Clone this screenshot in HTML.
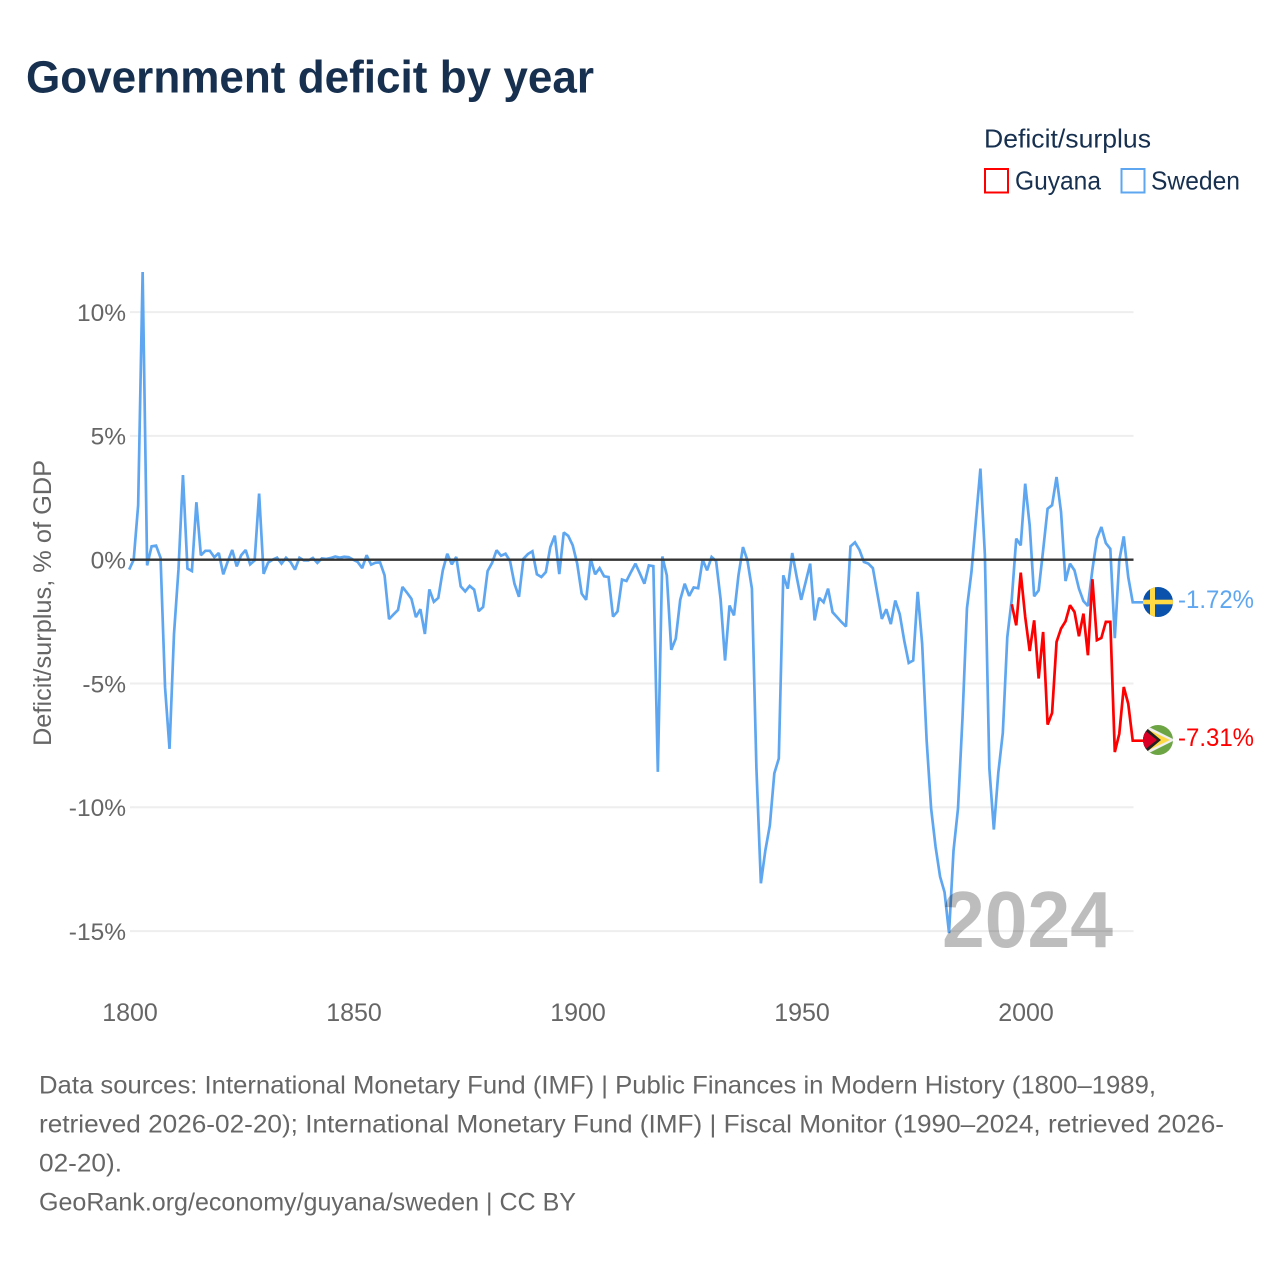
<!DOCTYPE html>
<html lang="en">
<head>
<meta charset="utf-8">
<title>Government deficit by year</title>
<style>
html,body{margin:0;padding:0;background:#fff;}
svg{display:block;}
text{font-family:"Liberation Sans",sans-serif;}
</style>
</head>
<body>
<svg id="chart" width="1280" height="1280" viewBox="0 0 1280 1280" xmlns="http://www.w3.org/2000/svg">
  <rect x="0" y="0" width="1280" height="1280" fill="#ffffff"/>
  <text x="26" y="92.500" font-size="45" font-weight="700" fill="#17304f" textLength="568" lengthAdjust="spacingAndGlyphs">Government deficit by year</text>

  <text x="984" y="147.500" font-size="26" fill="#17304f" textLength="167" lengthAdjust="spacingAndGlyphs">Deficit/surplus</text>
  <g>
    <rect x="985" y="169" width="23" height="23.500" fill="none" stroke="#ff0000" stroke-width="2"/>
    <text x="1015" y="189.500" font-size="26" fill="#17304f" textLength="86" lengthAdjust="spacingAndGlyphs">Guyana</text>
  </g>
  <g>
    <rect x="1121.500" y="169" width="23" height="23.500" fill="none" stroke="#5ea7f0" stroke-width="2"/>
    <text x="1151" y="189.500" font-size="26" fill="#17304f" textLength="89" lengthAdjust="spacingAndGlyphs">Sweden</text>
  </g>

  <text transform="translate(51,746) rotate(-90)" x="0" y="0" font-size="25" fill="#666666" textLength="286" lengthAdjust="spacingAndGlyphs">Deficit/surplus, % of GDP</text>

  <g id="grid"></g>
  <g id="yticks"></g>
  <g id="xticks"></g>
  <g id="series"></g>
  <g id="zero"></g>

  <text x="942" y="947" font-size="80" font-weight="700" fill="#000000" fill-opacity="0.26" textLength="171" lengthAdjust="spacingAndGlyphs">2024</text>

  <defs>
    <clipPath id="clip-se"><circle cx="1158" cy="602" r="15"/></clipPath>
    <clipPath id="clip-gy"><circle cx="1158" cy="740" r="15"/></clipPath>
  </defs>
  <g id="flag-sweden" clip-path="url(#clip-se)">
    <rect x="1143" y="587" width="30" height="30" fill="#0a52ac"/>
    <rect x="1150" y="587" width="5" height="30" fill="#ffda44"/>
    <rect x="1143" y="599.700" width="30" height="4.600" fill="#ffda44"/>
  </g>
  <g id="flag-guyana" clip-path="url(#clip-gy)">
    <rect x="1143" y="725" width="30" height="30" fill="#6da544"/>
    <polygon points="1145,725 1175,740 1145,755" fill="#f0f0f0"/>
    <polygon points="1147,729 1170,740 1147,751" fill="#ffda44"/>
    <polygon points="1143,725 1161,740 1143,755" fill="#222222"/>
    <polygon points="1143,729 1157,740 1143,751" fill="#d80027"/>
  </g>
  <text id="label-sweden" x="1178" y="608" font-size="25" fill="#5ea7f0" textLength="76" lengthAdjust="spacingAndGlyphs">-1.72%</text>
  <text id="label-guyana" x="1178" y="746" font-size="25" fill="#ff0000" textLength="76" lengthAdjust="spacingAndGlyphs">-7.31%</text>

  <g font-size="25" fill="#666666">
    <text x="39" y="1093.500" textLength="1117" lengthAdjust="spacingAndGlyphs">Data sources: International Monetary Fund (IMF) | Public Finances in Modern History (1800–1989,</text>
    <text x="39" y="1132.500" textLength="1185" lengthAdjust="spacingAndGlyphs">retrieved 2026-02-20); International Monetary Fund (IMF) | Fiscal Monitor (1990–2024, retrieved 2026-</text>
    <text x="39" y="1171.500" textLength="83" lengthAdjust="spacingAndGlyphs">02-20).</text>
    <text x="39" y="1210.500" textLength="537" lengthAdjust="spacingAndGlyphs">GeoRank.org/economy/guyana/sweden | CC BY</text>
  </g>
</svg>
<script>
const swedenStartYear = 1800;
const guyanaStartYear = 1997;
const swedenValues = [
  -0.4, 0, 2.2, 11.62, -0.23, 0.54, 0.57, 0.08, -5.15, -7.64,
  -3.0, -0.4, 3.42, -0.36, -0.46, 2.32, 0.18, 0.36, 0.36, 0.1,
  0.27, -0.59, -0.07, 0.39, -0.27, 0.18, 0.39, -0.19, -0.03, 2.67,
  -0.57, -0.12, 0, 0.08, -0.16, 0.08, -0.09, -0.4, 0.08, -0.03,
  -0.03, 0.07, -0.13, 0.05, 0.03, 0.07, 0.13, 0.08, 0.12, 0.1,
  0, -0.09, -0.34, 0.18, -0.2, -0.12, -0.11, -0.63, -2.4, -2.21,
  -2.03, -1.1, -1.33, -1.58, -2.32, -2.0, -3.0, -1.2, -1.7, -1.54,
  -0.43, 0.24, -0.19, 0.11, -1.08, -1.28, -1.06, -1.21, -2.08, -1.91,
  -0.46, -0.13, 0.38, 0.16, 0.24, -0.05, -0.97, -1.5, 0.04, 0.23,
  0.34, -0.59, -0.7, -0.5, 0.51, 0.97, -0.58, 1.1, 0.96, 0.58,
  -0.16, -1.37, -1.62, 0.04, -0.59, -0.34, -0.67, -0.7, -2.3, -2.09,
  -0.8, -0.86, -0.5, -0.16, -0.56, -0.97, -0.23, -0.26, -8.57, 0.13,
  -0.63, -3.64, -3.19, -1.62, -0.97, -1.46, -1.12, -1.15, 0, -0.43,
  0.11, -0.05, -1.58, -4.07, -1.85, -2.25, -0.63, 0.51, -0.03, -1.17,
  -8.4, -13.07, -11.74, -10.73, -8.63, -8.03, -0.63, -1.17, 0.27, -0.7,
  -1.62, -0.9, -0.16, -2.45, -1.54, -1.72, -1.17, -2.12, -2.32, -2.52,
  -2.7, 0.54, 0.7, 0.4, -0.09, -0.16, -0.34, -1.37, -2.39, -2.0,
  -2.6, -1.65, -2.2, -3.27, -4.17, -4.07, -1.3, -3.4, -7.3, -10.05,
  -11.6, -12.8, -13.43, -15.08, -11.75, -10.05, -6.4, -1.96, -0.5, 1.6,
  3.68, 0.2, -8.43, -10.9, -8.6, -7.0, -3.13, -1.6, 0.85, 0.58,
  3.07, 1.39, -1.48, -1.24, 0.38, 2.06, 2.2, 3.34, 1.93, -0.86,
  -0.16, -0.43, -1.17, -1.67, -1.87, -0.4, 0.85, 1.32, 0.67, 0.44,
  -3.17, -0.03, 0.94, -0.7, -1.72
];
const guyanaValues = [
  -1.8, -2.65, -0.52, -2.31, -3.69, -2.45, -4.8, -2.92, -6.66, -6.19,
  -3.32, -2.78, -2.49, -1.84, -2.11, -3.09, -2.18, -3.86, -0.79, -3.25,
  -3.16, -2.51, -2.51, -7.77, -7.03, -5.14, -5.82, -7.31
];
const yTicks = [10, 5, 0, -5, -10, -15];
const yTickLabels = ["10%", "5%", "0%", "-5%", "-10%", "-15%"];
const xTicks = [1800, 1850, 1900, 1950, 2000];
const xTickLabels = ["1800", "1850", "1900", "1950", "2000"];

const NS = "http://www.w3.org/2000/svg";
function xScale(year) { return 130 + (year - 1800) * 4.48; }
function xDataScale(year) { return xScale(year) - 0.8; }
function yScale(value) { return 559.7 - value * 24.76; }

const gridGroup = document.getElementById("grid");
const yGroup = document.getElementById("yticks");
const xGroup = document.getElementById("xticks");
const seriesGroup = document.getElementById("series");
const zeroGroup = document.getElementById("zero");

yTicks.forEach(function (tick, i) {
  if (tick !== 0) {
    const gridLine = document.createElementNS(NS, "line");
    
    
    gridLine.setAttribute("x1", 130);
    gridLine.setAttribute("x2", xScale(2024));
    gridLine.setAttribute("y1", yScale(tick));
    gridLine.setAttribute("y2", yScale(tick));
    gridLine.setAttribute("stroke", "#eeeeee");
    gridLine.setAttribute("stroke-width", "2");
    gridGroup.appendChild(gridLine);
  }
  const label = document.createElementNS(NS, "text");
  
  
  label.setAttribute("x", 126);
  label.setAttribute("y", yScale(tick) + 8.8);
  label.setAttribute("text-anchor", "end");
  label.setAttribute("font-size", "24.5");
  label.setAttribute("fill", "#666666");
  label.textContent = yTickLabels[i];
  yGroup.appendChild(label);
});

xTicks.forEach(function (tick, i) {
  const label = document.createElementNS(NS, "text");
  
  
  label.setAttribute("x", xScale(tick));
  label.setAttribute("y", 1021);
  label.setAttribute("text-anchor", "middle");
  label.setAttribute("font-size", "25");
  label.setAttribute("fill", "#666666");
  label.textContent = xTickLabels[i];
  xGroup.appendChild(label);
});

function pathFor(values, startYear) {
  let d = "";
  values.forEach(function (v, i) {
    d += (i === 0 ? "M" : "L") + xDataScale(startYear + i).toFixed(2) + " " + yScale(v).toFixed(2);
  });
  const last = values[values.length - 1];
  d += "L1145 " + yScale(last).toFixed(2);
  return d;
}

const swedenLine = document.createElementNS(NS, "path");


swedenLine.setAttribute("d", pathFor(swedenValues, swedenStartYear));
swedenLine.setAttribute("fill", "none");
swedenLine.setAttribute("stroke", "#5ea7f0");
swedenLine.setAttribute("stroke-width", "2.7");
swedenLine.setAttribute("stroke-linejoin", "miter");
swedenLine.setAttribute("stroke-miterlimit", "2");
seriesGroup.appendChild(swedenLine);

const guyanaLine = document.createElementNS(NS, "path");


guyanaLine.setAttribute("d", pathFor(guyanaValues, guyanaStartYear));
guyanaLine.setAttribute("fill", "none");
guyanaLine.setAttribute("stroke", "#ff0000");
guyanaLine.setAttribute("stroke-width", "2.7");
guyanaLine.setAttribute("stroke-linejoin", "miter");
guyanaLine.setAttribute("stroke-miterlimit", "2");
seriesGroup.appendChild(guyanaLine);

const zeroLine = document.createElementNS(NS, "line");


zeroLine.setAttribute("x1", 130);
zeroLine.setAttribute("x2", xScale(2024));
zeroLine.setAttribute("y1", yScale(0));
zeroLine.setAttribute("y2", yScale(0));
zeroLine.setAttribute("stroke", "#333333");
zeroLine.setAttribute("stroke-width", "2.4");
zeroGroup.appendChild(zeroLine);
</script>
</body>
</html>
